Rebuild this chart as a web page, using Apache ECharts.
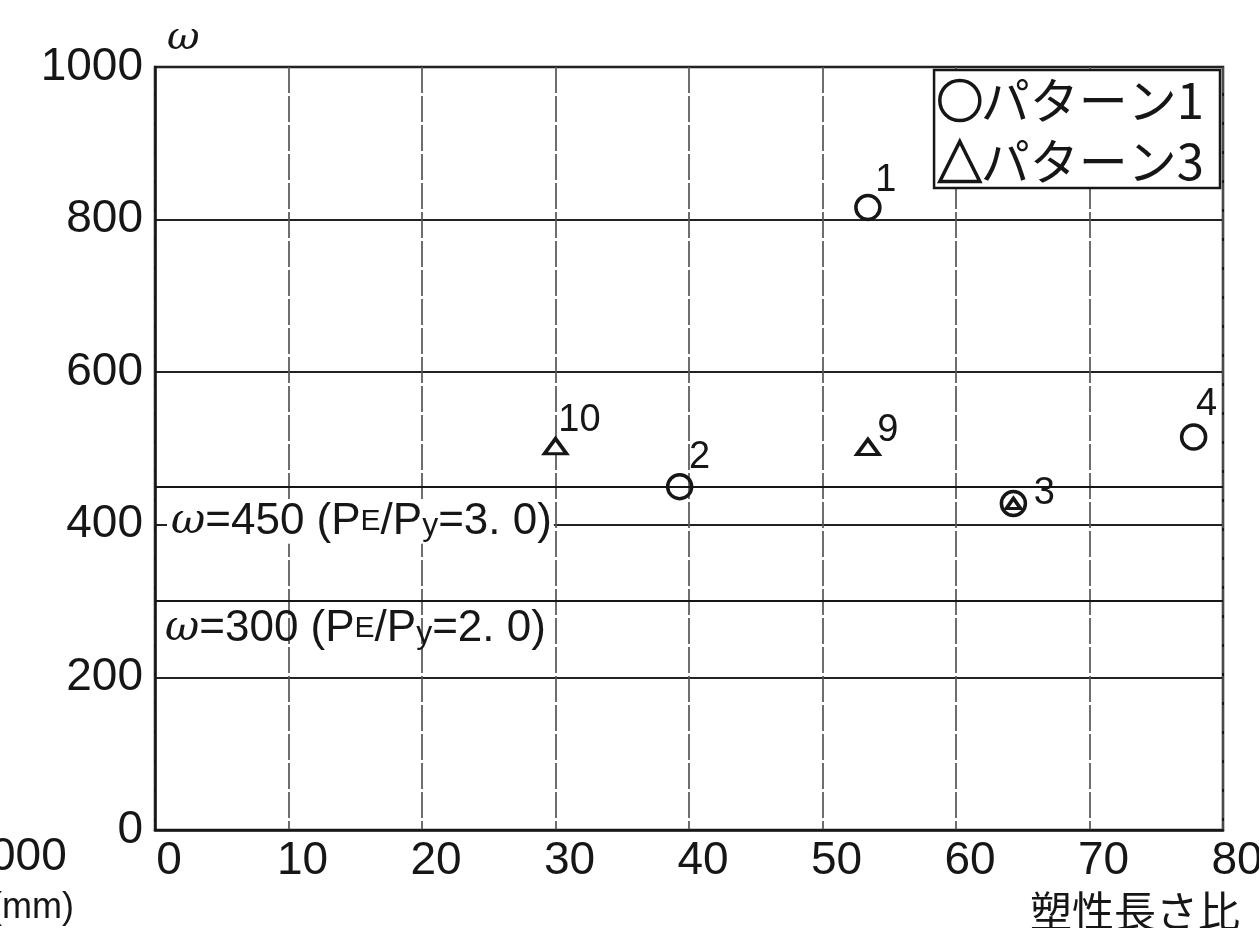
<!DOCTYPE html>
<html>
<head>
<meta charset="utf-8">
<script src="https://cdn.jsdelivr.net/npm/echarts@6/dist/echarts.min.js"></script>
<style>
  html, body { margin: 0; padding: 0; background: #fff; }
  #chart { width: 1259px; height: 928px; }
</style>
</head>
<body>
<div id="chart"></div>
<script>
// Pattern 1 specimens (circles): [plastic length ratio, ω]
const pattern1 = [[53.4, 816], [39.3, 450], [64.3, 428], [77.8, 515]];
const pattern1Ids = ['1', '2', '3', '4'];
// Pattern 3 specimens (triangles)
const pattern3 = [[30.0, 503], [53.4, 502], [64.3, 428]];
const pattern3Ids = ['10', '9', ''];
// Reference levels of ω and the matching PE/Py ratios
const limitOmega = [450, 300];
const limitRatio = ['3. 0', '2. 0'];
// Axis ranges
const xRange = [0, 80, 10];
const yRange = [0, 1000, 200];

// where each specimen number sits relative to its marker
const idOffset = {
  '1': [18, -27], '2': [20, -29], '3': [31, -10], '4': [13, -33],
  '10': [24, -26], '9': [20, -16]
};

const INK = '#161616';
const NUM_FONT = "'Liberation Sans', Arial, sans-serif";
const JP_FONT = "'Noto Sans CJK JP', sans-serif";

function withIds(points, ids) {
  return points.map((p, i) => ({ value: p, name: ids[i] }));
}

function idLabel() {
  return {
    show: true,
    position: 'inside',
    color: INK,
    fontSize: 38,
    fontFamily: NUM_FONT,
    formatter: p => p.name,
  };
}

const chart = echarts.init(document.getElementById('chart'), null, { renderer: 'canvas' });

const p1Data = withIds(pattern1, pattern1Ids).map(d => ({
  ...d, label: { offset: idOffset[d.name] || [0, 0] }
}));
const p3Data = withIds(pattern3, pattern3Ids).map(d => ({
  ...d, label: { offset: idOffset[d.name] || [0, 0] }
}));

// a triangle that shares its spot with a circle is drawn small, inside it
function triSize(val) {
  const shared = pattern1.some(c => Math.abs(c[0] - val[0]) < 0.5 && Math.abs(c[1] - val[1]) < 5);
  return shared ? [14, 10] : [22, 15];
}

const limitLabels = limitOmega.map((w, i) => ({
  yAxis: w,
  label: {
    show: true,
    position: 'insideStartBottom',
    distance: i === 0 ? [12, 13] : [6, 6],
    formatter: '{w|ω}{t|=' + w + ' (P}{s|E}{t|/P}{y|y}{t|=' + limitRatio[i] + ')}',
    backgroundColor: i === 0 ? '#fff' : 'transparent',
    padding: [0, 2, 0, 4],
    rich: {
      w: { fontSize: 42, fontStyle: 'italic', fontFamily: "'DejaVu Serif', serif", color: INK },
      t: { fontSize: 44, fontFamily: NUM_FONT, color: INK },
      s: { fontSize: 30, fontFamily: NUM_FONT, color: INK },
      y: { fontSize: 32, fontFamily: NUM_FONT, color: INK, padding: [10, 0, 0, 0] }
    }
  }
}));

const option = {
  backgroundColor: '#fff',
  animation: false,
  grid: {
    left: 155, right: 36, top: 67, bottom: 98,
    outerBoundsMode: 'none',
    containLabel: false,
    show: true, borderColor: INK, borderWidth: 2.5, backgroundColor: 'transparent'
  },
  legend: {
    orient: 'vertical',
    right: 39, top: 70,
    backgroundColor: '#fff',
    borderColor: INK, borderWidth: 2.5, borderRadius: 0,
    padding: [6, 16, 2, 4],
    itemGap: 12,
    itemWidth: 40, itemHeight: 40,
    textStyle: { fontSize: 49, fontFamily: JP_FONT, color: INK, padding: [0, 0, 0, -4] },
    data: [
      { name: 'パターン1', icon: 'circle',
        itemStyle: { color: 'transparent', borderColor: INK, borderWidth: 3.5, opacity: 1 } },
      { name: 'パターン3', icon: 'triangle',
        itemStyle: { color: 'transparent', borderColor: INK, borderWidth: 3.5, opacity: 1 } }
    ]
  },
  xAxis: {
    type: 'value',
    min: xRange[0], max: xRange[1], interval: xRange[2],
    axisLine: { show: true, lineStyle: { color: INK, width: 2.5 } },
    axisTick: { show: false },
    axisLabel: {
      color: INK, fontSize: 46, fontFamily: NUM_FONT, margin: 8,
      padding: [0, 0, 0, 28]
    },
    splitLine: { show: true, lineStyle: { color: '#555', width: 1.7, type: [26, 3] } }
  },
  yAxis: {
    type: 'value',
    min: yRange[0], max: yRange[1], interval: yRange[2],
    name: 'ω',
    nameLocation: 'end',
    nameGap: 8,
    nameTextStyle: {
      fontSize: 40, fontStyle: 'italic', fontFamily: "'DejaVu Serif', serif",
      color: INK, align: 'left', padding: [0, 0, 0, 12]
    },
    axisLine: { show: true, lineStyle: { color: INK, width: 2.5 } },
    axisTick: { show: false },
    axisLabel: {
      color: INK, fontSize: 46, fontFamily: NUM_FONT, margin: 12,
      padding: [0, 0, 10, 0],
      formatter: v => String(v)
    },
    splitLine: { show: true, lineStyle: { color: '#222', width: 2.2 } }
  },
  series: [
    {
      name: 'ω limits',
      type: 'line',
      data: [],
      silent: true,
      markLine: {
        silent: true,
        symbol: 'none',
        animation: false,
        lineStyle: { color: INK, width: 2.2, type: 'solid', opacity: 1 },
        data: limitLabels
      },
      z: 3
    },
    {
      name: 'パターン3',
      type: 'scatter',
      data: p3Data,
      symbol: 'triangle',
      symbolSize: triSize,
      itemStyle: { color: '#fff', borderColor: INK, borderWidth: 3.5, opacity: 1 },
      label: idLabel(),
      z: 4
    },
    {
      name: 'パターン1',
      type: 'scatter',
      data: p1Data,
      symbol: 'circle',
      symbolSize: 24,
      itemStyle: { color: 'transparent', borderColor: INK, borderWidth: 3.5, opacity: 1 },
      label: idLabel(),
      z: 5
    }
  ],
  graphic: [
    { type: 'text', right: 19, top: 890,
      style: { text: '塑性長さ比', font: '42px ' + JP_FONT, fill: INK } },
    { type: 'text', left: -10, top: 834,
      style: { text: '000', font: '46px ' + NUM_FONT, fill: INK } },
    { type: 'text', left: -10, top: 890,
      style: { text: '(mm)', font: '36px ' + NUM_FONT, fill: INK } }
  ]
};

chart.setOption(option);
</script>
</body>
</html>
